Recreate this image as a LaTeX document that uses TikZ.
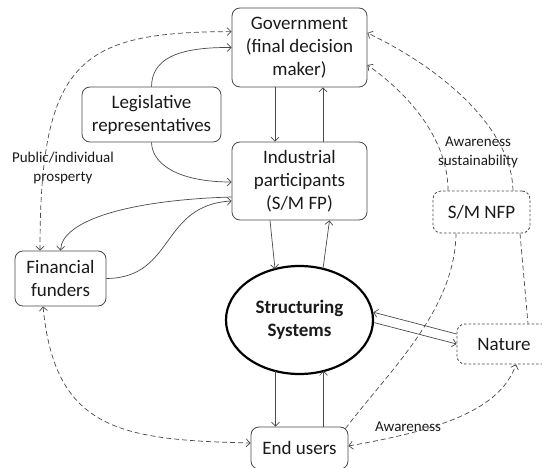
\documentclass[tikz,border=0pt]{standalone}
\usepackage{fontspec}
\setmainfont{Carlito}
\usetikzlibrary{arrows.meta,calc,shapes.geometric}
\definecolor{linegray}{HTML}{4A4A4A}
\definecolor{textcol}{HTML}{1A1A1A}
\newcommand\mainfs{\fontsize{19}{23}\selectfont}
\newcommand\smallfs{\fontsize{15}{19}\selectfont}
\begin{document}
\begin{tikzpicture}[x=1pt,y=-1pt,
  box/.style={draw=linegray, rounded corners=8pt, align=center, inner sep=0pt, font=\mainfs, text=textcol, line width=0.8pt},
  dbox/.style={box, dash pattern=on 2.5pt off 2pt},
  conn/.style={draw=linegray, line width=0.7pt, -{Straight Barb[length=4pt,width=8pt]}},
  dconn/.style={conn, dash pattern=on 5pt off 3pt},
  dline/.style={draw=linegray, line width=0.7pt, dash pattern=on 5pt off 3pt},
  lab/.style={font=\smallfs, text=textcol, align=center}]
\useasboundingbox (0,0) rectangle (542,468);
\clip (0,0) rectangle (542,468);

% nodes
\node[box, minimum width=135, minimum height=79] (gov) at (299.5,47.5) {Government\\(final decision\\maker)};
\node[box, minimum width=139, minimum height=55] (leg) at (151.5,114.5) {Legislative\\representatives};
\node[box, minimum width=135, minimum height=78] (ind) at (299.5,181) {Industrial\\participants\\(S/M FP)};
\node[box, minimum width=91, minimum height=55] (fin) at (60.5,278.5) {Financial\\funders};
\node[ellipse, draw=black, line width=2.2pt, minimum width=147, minimum height=108, inner sep=0pt, font=\bfseries\mainfs, text=textcol, align=center] (ss) at (299.5,320) {Structuring\\Systems};
\node[dbox, minimum width=97, minimum height=42] (nfp) at (481.5,212) {S/M NFP};
\node[dbox, minimum width=94, minimum height=40] (nat) at (504,344) {Nature};
\node[box, minimum width=97, minimum height=42] (eu) at (299.5,448) {End users};

% labels
\node[lab] (lpub) at (63,168.5) {Public/individual\\prosperty};
\node[lab] (laws) at (478,152.5) {Awareness\\sustainability};
\node[lab] (law) at (408,427) {Awareness};

% solid connectors
\draw[conn] (leg.north) .. controls (152,60) and (175,47) .. (gov.west);
\draw[conn] (leg.south) .. controls (152,165) and (180,182) .. ($(ind.west)+(0,1)$);
\draw[conn] ($(gov.south)+(-24.5,0)$) -- ($(ind.north)+(-24.5,0)$);
\draw[conn] ($(ind.north)+(23.5,0)$) -- ($(gov.south)+(23.5,0)$);
\draw[conn] ($(ind.west)+(0,16)$) .. controls (130,200) and (62,220) .. (fin.north);
\draw[conn] (fin.east) .. controls (175,278) and (160,205) .. ($(ind.west)+(0,20)$);
\draw[conn] ($(ind.south)+(-29.5,0)$) -- ($(ss.center)+(-24.5,-51)$);
\draw[conn] ($(ss.center)+(23.5,-51.2)$) -- ($(ind.south)+(30,0)$);
\draw[conn] ($(ss.center)+(-24,51)$) -- ($(eu.north)+(-24,0)$);
\draw[conn] ($(eu.north)+(24,0)$) -- ($(ss.center)+(24,51)$);
\draw[conn] ($(nat.west)+(0,-10)$) -- (ss.6);
\draw[conn] (ss.-2) -- (nat.west);

% dashed connectors
\draw[dconn, {Straight Barb[length=4pt,width=8pt]}-{Straight Barb[length=4pt,width=8pt]}] ($(fin.north)+(-20.5,0)$) .. controls (40,60) and (80,32) .. ($(gov.north west)+(0,24)$);
\draw[dconn, {Straight Barb[length=4pt,width=8pt]}-{Straight Barb[length=4pt,width=8pt]}] ($(fin.south)+(-17.5,0)$) .. controls (55,430) and (120,440) .. ($(eu.west)+(0,-5)$);
\draw[dconn, {Straight Barb[length=4pt,width=8pt]}-{Straight Barb[length=4pt,width=8pt]}] ($(eu.east)+(0,-2)$) .. controls (440,430) and (500,410) .. ($(nat.south)+(12,0)$);
\draw[dline] ($(eu.north east)+(-3,2)$) .. controls (390,370) and (455,310) .. ($(nfp.south)+(-25.5,0)$);
\draw[dline] ($(nfp.south)+(38.5,0)$) -- ($(nat.north)+(24,0)$);
\draw[dconn] ($(nfp.north)+(-33.5,0)$) .. controls (448,140) and (410,95) .. ($(gov.east)+(0,17.5)$);
\draw[dconn] ($(nfp.north)+(31.5,0)$) .. controls (512,130) and (445,70) .. ($(gov.east)+(0,-14.5)$);
\end{tikzpicture}
\end{document}
